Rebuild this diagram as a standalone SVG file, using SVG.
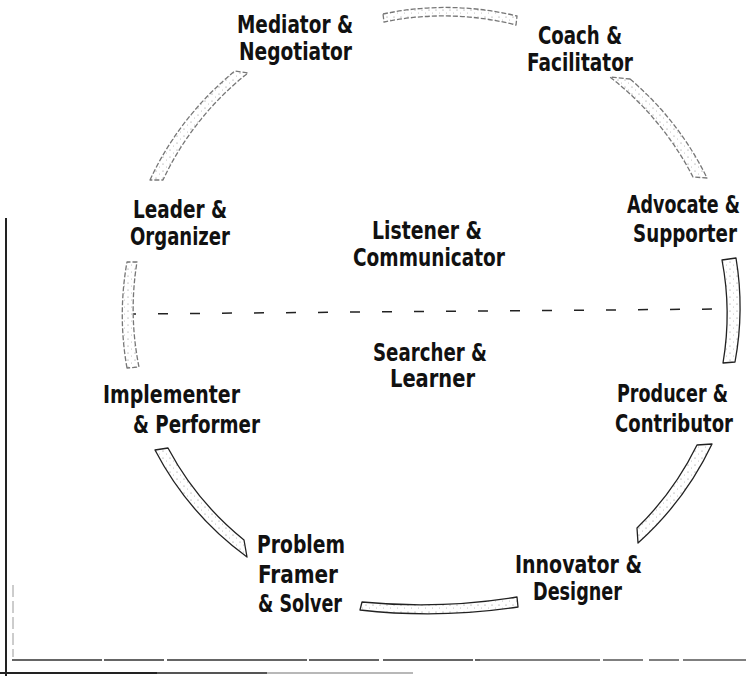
<svg xmlns="http://www.w3.org/2000/svg" width="746" height="676" viewBox="0 0 746 676">
  <defs>
    <pattern id="speckle" width="7" height="7" patternUnits="userSpaceOnUse">
      <rect width="7" height="7" fill="#ffffff"/>
      <circle cx="2" cy="3" r="0.6" fill="#8a8a8a"/>
      <circle cx="5.5" cy="6" r="0.5" fill="#b0b0b0"/>
    </pattern>
    <style>
      .lbl { font-family: "Liberation Sans Narrow", "DejaVu Sans Condensed", "Roboto Condensed", sans-serif; font-weight: 700; font-size: 24px; fill: #111111; }
      .band { fill: url(#speckle); stroke: #222222; stroke-width: 1.3; stroke-linejoin: round; }
      .faint { stroke: #777777; stroke-dasharray: 5 2; }
      .frame { fill: none; stroke: #222222; }
    </style>
  </defs>
  <rect width="746" height="676" fill="#ffffff"/>

  <g id="frame">
    <line class="frame" x1="6" y1="218" x2="6" y2="676" stroke-width="2"/>
    <line x1="13" y1="585" x2="13" y2="657" stroke="#9a9a9a" stroke-width="1" stroke-dasharray="12 4"/>
    <line x1="12" y1="660" x2="480" y2="660" stroke="#333333" stroke-width="1.3" stroke-dasharray="90 2 60 3 140 2 70 4"/>
    <line x1="480" y1="660" x2="746" y2="660" stroke="#555555" stroke-width="1.3" stroke-dasharray="120 3 40 6 30 4"/>
    <line x1="0" y1="673" x2="157" y2="673" stroke="#222222" stroke-width="2"/>
    <line x1="157" y1="673" x2="267" y2="673" stroke="#555555" stroke-width="2"/>
    <line x1="267" y1="673" x2="413" y2="673" stroke="#b8b8b8" stroke-width="2"/>
  </g>

  <g id="divider">
    <line x1="126" y1="314" x2="722" y2="309" stroke="#222222" stroke-width="1.5" stroke-dasharray="10 22"/>
  </g>

  <g id="connectors">
    <path class="band faint" d="M383,14 A303,303 0 0 1 517,16 L516,25 A294,294 0 0 0 384,22 Z"/>
    <path class="band faint" d="M630,79 A305,305 0 0 1 707,178 L693,177 A300,300 0 0 0 610,77 Z"/>
    <path class="band" d="M736,258 A300,300 0 0 1 735,362 L723,363 A290,290 0 0 0 722,260 Z"/>
    <path class="band" d="M712,444 A312,312 0 0 1 638,543 L637,528 A300,300 0 0 0 697,445 Z"/>
    <path class="band" d="M518,607 A600,600 0 0 1 360,610 L362,602 A600,600 0 0 0 517,597 Z"/>
    <path class="band" d="M155,450 A310,310 0 0 0 247,557 L244,540 A298,298 0 0 1 168,448 Z"/>
    <path class="band faint" d="M127,368 A300,300 0 0 1 127,262 L137,262 A290,290 0 0 0 139,367 Z"/>
    <path class="band faint" d="M150,180 A305,305 0 0 1 235,71 L248,73 A295,295 0 0 0 163,180 Z"/>
  </g>

  <g id="mediator">
    <text class="lbl" x="237" y="33" textLength="116" lengthAdjust="spacingAndGlyphs">Mediator &amp;</text>
    <text class="lbl" x="239" y="60" textLength="113" lengthAdjust="spacingAndGlyphs">Negotiator</text>
  </g>
  <g id="coach">
    <text class="lbl" x="538" y="44" textLength="84" lengthAdjust="spacingAndGlyphs">Coach &amp;</text>
    <text class="lbl" x="527" y="71" textLength="106" lengthAdjust="spacingAndGlyphs">Facilitator</text>
  </g>
  <g id="advocate">
    <text class="lbl" x="627" y="213" textLength="113" lengthAdjust="spacingAndGlyphs">Advocate &amp;</text>
    <text class="lbl" x="633" y="242" textLength="104" lengthAdjust="spacingAndGlyphs">Supporter</text>
  </g>
  <g id="producer">
    <text class="lbl" x="617" y="402" textLength="111" lengthAdjust="spacingAndGlyphs">Producer &amp;</text>
    <text class="lbl" x="615" y="432" textLength="118" lengthAdjust="spacingAndGlyphs">Contributor</text>
  </g>
  <g id="innovator">
    <text class="lbl" x="515" y="573" textLength="127" lengthAdjust="spacingAndGlyphs">Innovator &amp;</text>
    <text class="lbl" x="533" y="600" textLength="89" lengthAdjust="spacingAndGlyphs">Designer</text>
  </g>
  <g id="problem">
    <text class="lbl" x="257" y="553" textLength="88" lengthAdjust="spacingAndGlyphs">Problem</text>
    <text class="lbl" x="258" y="583" textLength="80" lengthAdjust="spacingAndGlyphs">Framer</text>
    <text class="lbl" x="258" y="612" textLength="84" lengthAdjust="spacingAndGlyphs">&amp; Solver</text>
  </g>
  <g id="implementer">
    <text class="lbl" x="103" y="403" textLength="137" lengthAdjust="spacingAndGlyphs">Implementer</text>
    <text class="lbl" x="133" y="433" textLength="127" lengthAdjust="spacingAndGlyphs">&amp; Performer</text>
  </g>
  <g id="leader">
    <text class="lbl" x="133" y="218" textLength="94" lengthAdjust="spacingAndGlyphs">Leader &amp;</text>
    <text class="lbl" x="130" y="245" textLength="100" lengthAdjust="spacingAndGlyphs">Organizer</text>
  </g>
  <g id="listener">
    <text class="lbl" x="372" y="239" textLength="110" lengthAdjust="spacingAndGlyphs">Listener &amp;</text>
    <text class="lbl" x="353" y="266" textLength="152" lengthAdjust="spacingAndGlyphs">Communicator</text>
  </g>
  <g id="searcher">
    <text class="lbl" x="373" y="361" textLength="114" lengthAdjust="spacingAndGlyphs">Searcher &amp;</text>
    <text class="lbl" x="390" y="387" textLength="85" lengthAdjust="spacingAndGlyphs">Learner</text>
  </g>
</svg>
